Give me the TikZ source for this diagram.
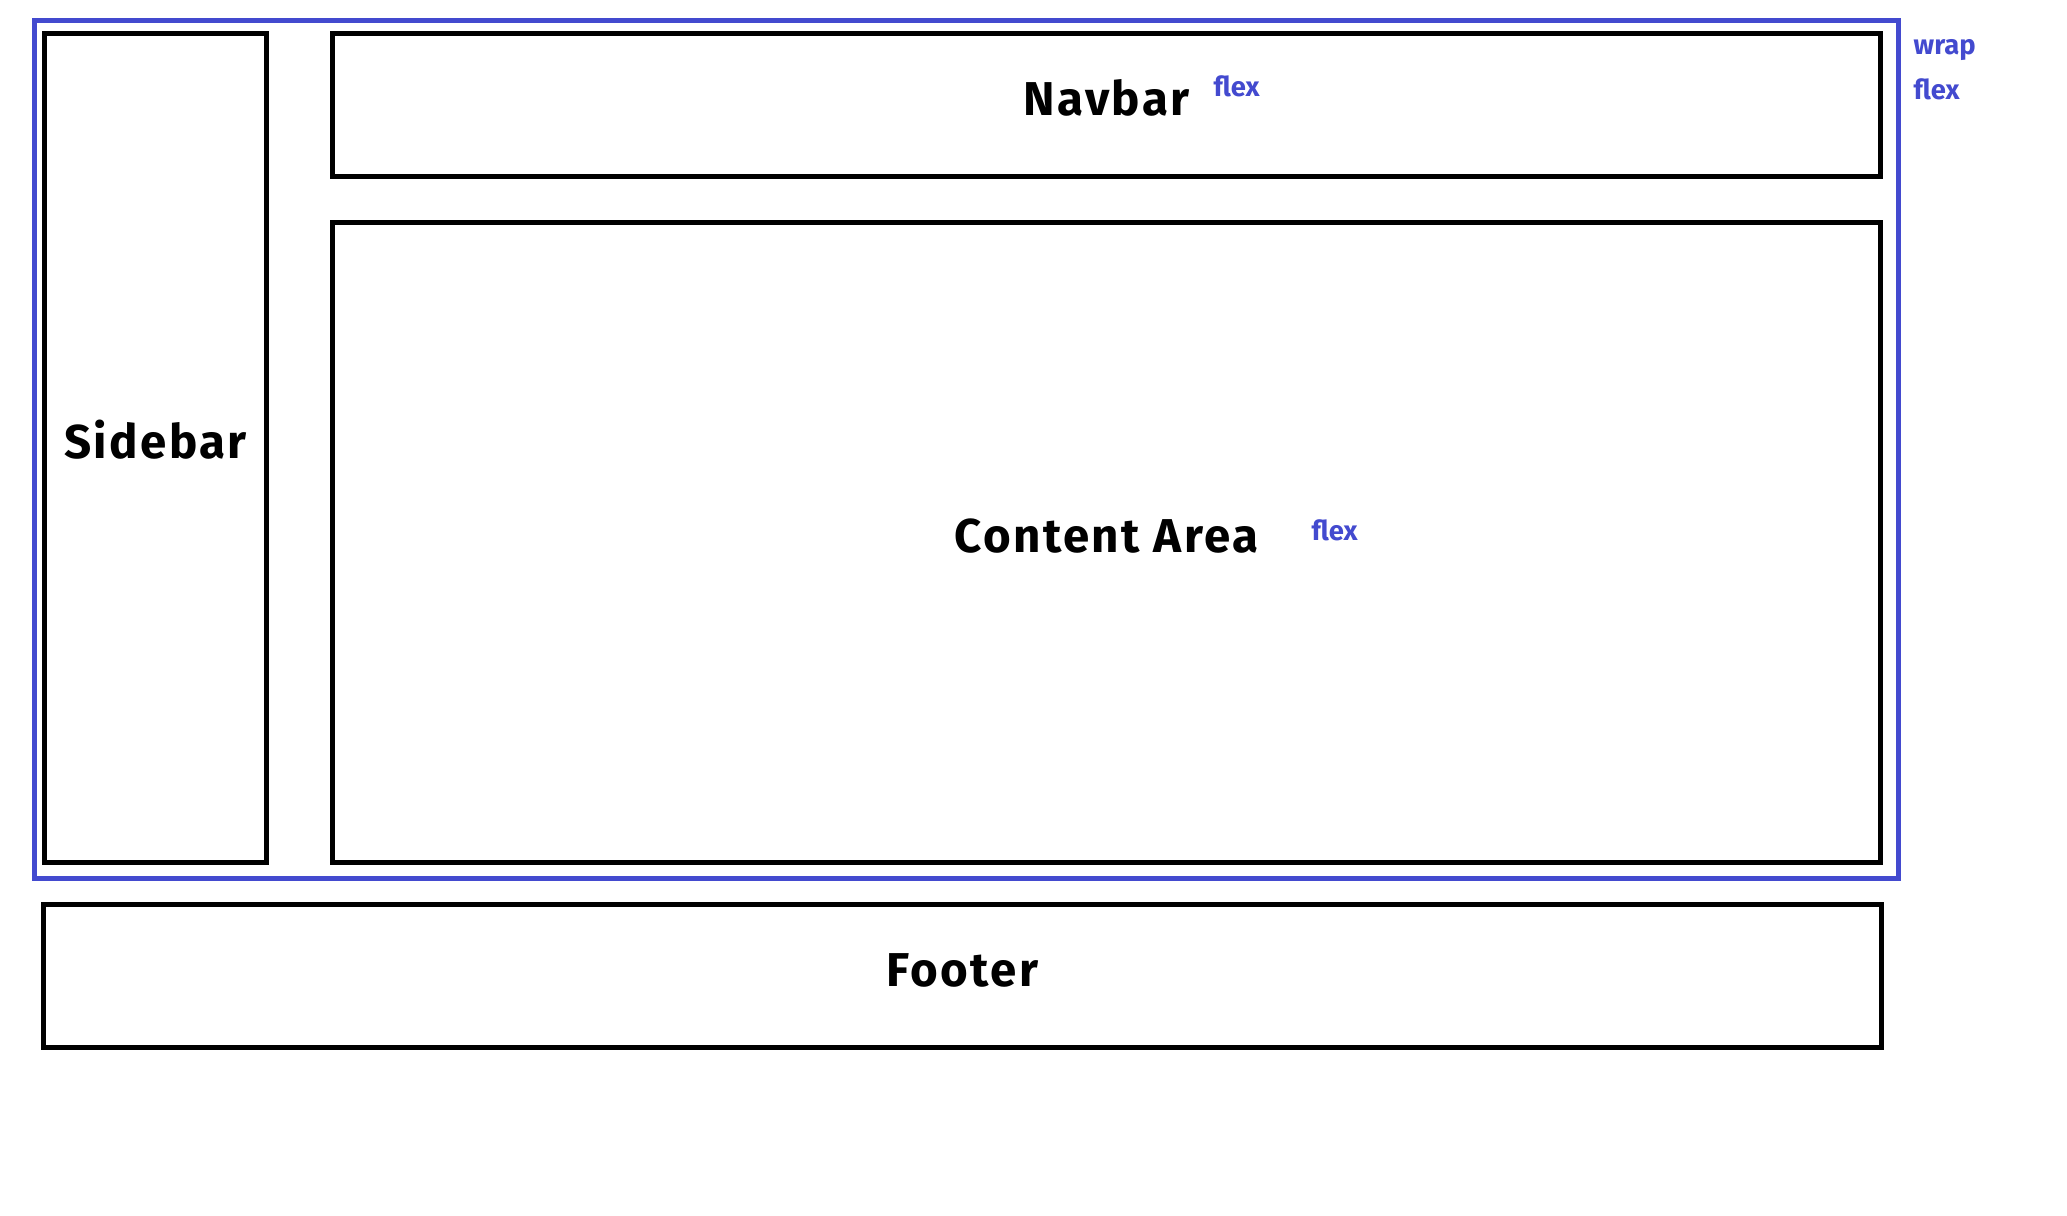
\documentclass[tikz,border=0pt]{standalone}
\usepackage{fontspec}
\setmainfont{Fira Sans}
\newfontfamily\boxfont[LetterSpace=5]{Fira Sans}
\usepackage{xcolor}
\usepackage{tikz}
\usetikzlibrary{positioning}
\definecolor{flexblue}{RGB}{67,74,207}

\begin{document}
\begin{tikzpicture}[x=0.01cm, y=-0.01cm,
  box/.style={draw=black, line width=1.42pt, rectangle, inner sep=0pt, text height=9.7pt, text depth=4pt, font=\boxfont\fontsize{13.5}{15}\selectfont\bfseries},
  wrapbox/.style={draw=flexblue, line width=1.42pt, rectangle, inner sep=0pt},
  tag/.style={text=flexblue, inner sep=0pt, anchor=base west, font=\fontsize{7.8}{9}\selectfont\bfseries}]
\useasboundingbox (0,0) rectangle (2067,1216);

\node [wrapbox, minimum width=18.62cm, minimum height=8.58cm] (wrap) at (966.5,449.5) {};

\node [box, minimum width=2.22cm, minimum height=8.29cm] (sidebar) at (155.5,448) {Sidebar};
\node [box, minimum width=15.48cm, minimum height=1.43cm] (navbar) at (1106.5,105) {Navbar};
\node [box, minimum width=15.48cm, minimum height=6.40cm] (content) at (1106.5,542.5) {Content Area};
\node [box, minimum width=18.36cm, minimum height=1.43cm] (footer) at (962.5,976) {Footer};

\node [tag] (navflex) at (1213,97) {flex};
\node [tag] (contentflex) at (1311,541) {flex};
\node [tag] (wraplabel) at (1913,55) {wrap};
\node [tag] (wrapflex) at (1913,100) {flex};

\end{tikzpicture}
\end{document}
